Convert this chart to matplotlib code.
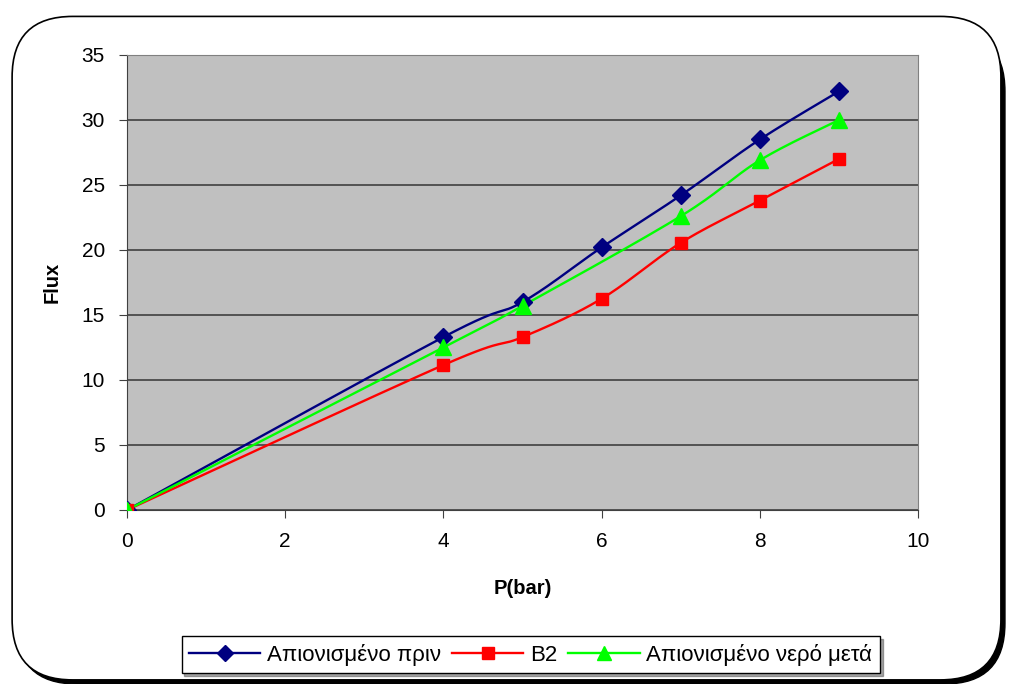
import numpy as np
import matplotlib
matplotlib.use("Agg")
import matplotlib.pyplot as plt
from matplotlib.patches import FancyBboxPatch

# δεδομένα από το διάγραμμα
p_blue = [0, 4, 5, 6, 7, 8, 9]
flux_blue = [0, 13.3, 16.0, 20.2, 24.2, 28.5, 32.2]
p_red = [0, 4, 5, 6, 7, 8, 9]
flux_red = [0, 11.15, 13.3, 16.25, 20.55, 23.8, 27.0]
p_green = [0, 4, 5, 7, 8, 9]
flux_green = [0, 12.5, 15.7, 22.6, 26.9, 30.0]
labels = ["Απιονισμένο πριν", "B2", "Απιονισμένο νερό μετά"]


def smooth(x, y, n=30):
    # Catmull-Rom καμπύλη, όπως η "smoothed line" του Excel
    x = np.asarray(x, float)
    y = np.asarray(y, float)
    px = np.concatenate([[x[0]], x, [x[-1]]])
    py = np.concatenate([[y[0]], y, [y[-1]]])
    xs, ys = [], []
    t = np.linspace(0, 1, n)
    for i in range(1, len(px) - 2):
        c1x = px[i] + (px[i + 1] - px[i - 1]) / 6
        c1y = py[i] + (py[i + 1] - py[i - 1]) / 6
        c2x = px[i + 1] - (px[i + 2] - px[i]) / 6
        c2y = py[i + 1] - (py[i + 2] - py[i]) / 6
        bx = (1 - t) ** 3 * px[i] + 3 * (1 - t) ** 2 * t * c1x + 3 * (1 - t) * t ** 2 * c2x + t ** 3 * px[i + 1]
        by = (1 - t) ** 3 * py[i] + 3 * (1 - t) ** 2 * t * c1y + 3 * (1 - t) * t ** 2 * c2y + t ** 3 * py[i + 1]
        xs.extend(bx)
        ys.extend(by)
    return np.array(xs), np.array(ys)


plt.rcParams['font.family'] = ['Liberation Sans', 'DejaVu Sans']

fig = plt.figure(figsize=(10.09, 6.84), dpi=100)

# στρογγυλεμένο πλαίσιο με σκιά
shadow = FancyBboxPatch((0.016, 0.0), 0.98, 0.955, boxstyle="round,pad=0,rounding_size=0.06",
                        transform=fig.transFigure, facecolor="black", edgecolor="black",
                        mutation_aspect=1009 / 684, zorder=0)
frame = FancyBboxPatch((0.012, 0.006), 0.98, 0.97, boxstyle="round,pad=0,rounding_size=0.06",
                       transform=fig.transFigure, facecolor="white", edgecolor="black",
                       linewidth=1.2, mutation_aspect=1009 / 684, zorder=1)
fig.patches.extend([shadow, frame])

ax = fig.add_axes([0.1259, 0.2544, 0.7839, 0.6652])
ax.set_zorder(2)
ax.set_facecolor("#C0C0C0")

series = [
    (p_blue, flux_blue, "#000080", "D", 9),
    (p_red, flux_red, "#FF0000", "s", 9),
    (p_green, flux_green, "#00FF00", "^", 11),
]
for (xv, yv, col, mk, ms), lab in zip(series, labels):
    sx, sy = smooth(xv, yv)
    ax.plot(sx, sy, color=col, lw=1.7, zorder=3)
    ax.plot(xv, yv, ls="none", marker=mk, color=col, ms=ms, zorder=4)
    ax.plot([], [], color=col, lw=1.7, marker=mk, ms=ms - 1, label=lab)

ax.set_xlim(0, 10)
ax.set_ylim(0, 35)
ax.set_xticks(range(0, 11, 2))
ax.set_yticks(range(0, 36, 5))
ax.yaxis.grid(True, color="#404040", lw=1.2)
ax.set_axisbelow(True)
for s in ax.spines.values():
    s.set_color("#808080")
ax.spines["left"].set_color("#404040")
ax.spines["bottom"].set_color("#404040")
ax.tick_params(labelsize=15, length=6, color="#404040", pad=10)
ax.set_xlabel("P(bar)", fontsize=14.5, fontweight="bold", labelpad=20)
ax.set_ylabel("Flux", fontsize=14.5, fontweight="bold", labelpad=14)

leg = fig.legend(loc="center", bbox_to_anchor=(0.526, 0.043), ncol=3, fontsize=16,
                 frameon=True, fancybox=False, shadow=True, handlelength=3.2,
                 columnspacing=0.5, handletextpad=0.3, borderpad=0.35)
leg.get_frame().set_edgecolor("black")
leg.set_zorder(5)

fig.savefig("out.png", dpi=100)
